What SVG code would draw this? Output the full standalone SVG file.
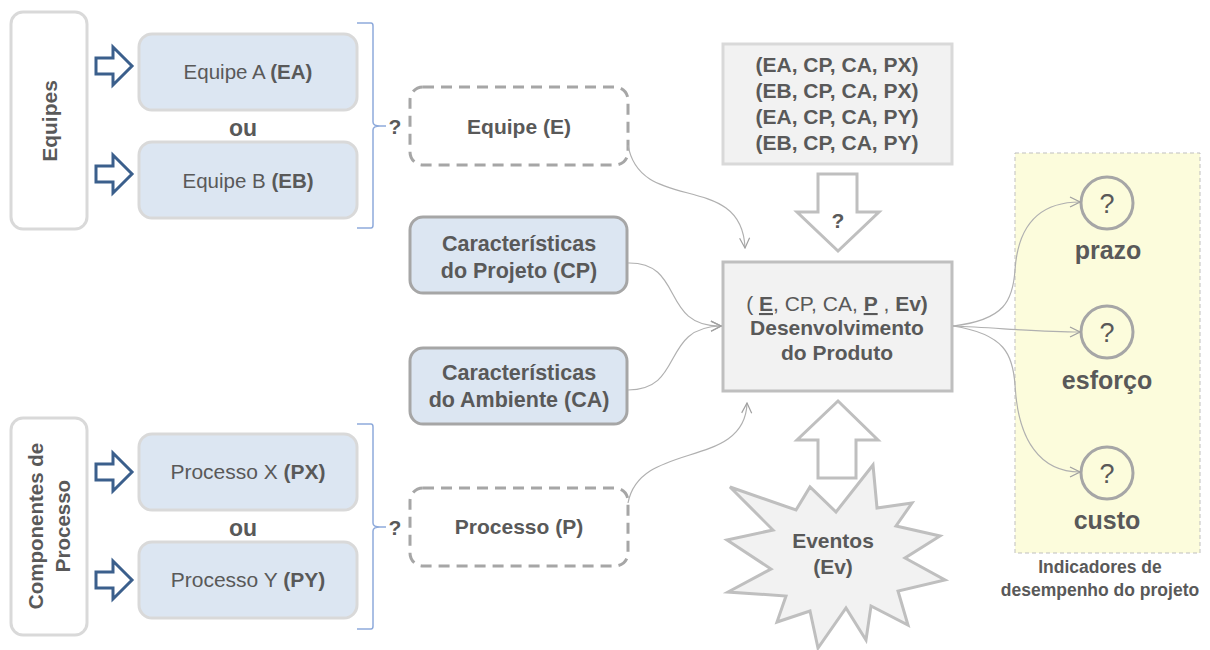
<svg xmlns="http://www.w3.org/2000/svg" width="1210" height="650" viewBox="0 0 1210 650">
<defs>
<style>
text{font-family:"Liberation Sans",Arial,sans-serif;fill:#595959;}
.b{font-weight:bold;}
.side{fill:#fff;stroke:#d9d9d9;stroke-width:3;}
.opt{fill:#dce6f2;stroke:#d9d9d9;stroke-width:3;}
.char{fill:#dce6f2;stroke:#a6a6a6;stroke-width:3;}
.dash{fill:#fff;stroke:#a6a6a6;stroke-width:3;stroke-dasharray:11 7;}
.gbox{fill:#f2f2f2;stroke:#d9d9d9;stroke-width:3;}
.cbox{fill:#f2f2f2;stroke:#bfbfbf;stroke-width:3;}
.barrow{fill:#fff;stroke:#3b5f8c;stroke-width:3;stroke-linejoin:miter;}
.garrow{fill:#fff;stroke:#bfbfbf;stroke-width:3;}
.brace{fill:none;stroke:#8eaadb;stroke-width:1.5;}
.con{fill:none;stroke:#b0b0b0;stroke-width:1.2;marker-end:url(#open);}
.circ{fill:none;stroke:#a6a6a6;stroke-width:3;}
</style>
<marker id="open" viewBox="0 0 12 12" refX="11" refY="6" markerWidth="12" markerHeight="12" markerUnits="userSpaceOnUse" orient="auto">
<path d="M1,1 L11,6 L1,11" fill="none" stroke="#a0a0a0" stroke-width="1.2"/>
</marker>
<path id="rarrow" d="M0,0 L0,-8 L17,-8 L17,-19 L36,0 L17,19 L17,8 L0,8 Z"/>
</defs>

<!-- Equipes group -->
<g id="equipes">
<rect class="side" x="11" y="12" width="76" height="217" rx="12"/>
<text class="b" font-size="21" text-anchor="middle" transform="translate(57,121) rotate(-90)">Equipes</text>
</g>
<g id="arrow-ea"><use href="#rarrow" class="barrow" transform="translate(96,66)"/></g>
<g id="arrow-eb"><use href="#rarrow" class="barrow" transform="translate(96,174)"/></g>
<g id="equipe-a">
<rect class="opt" x="139" y="34" width="218" height="76" rx="13"/>
<text font-size="20.5" text-anchor="middle" x="248" y="79">Equipe A <tspan class="b">(EA)</tspan></text>
</g>
<text class="b" font-size="23" x="243" y="136" text-anchor="middle">ou</text>
<g id="equipe-b">
<rect class="opt" x="139" y="142" width="218" height="76" rx="13"/>
<text font-size="20.5" text-anchor="middle" x="248" y="188">Equipe B <tspan class="b">(EB)</tspan></text>
</g>
<g id="brace-e">
<path class="brace" d="M357,23 L371,23 Q373,23 373,26 L373,122 Q373,126 380,126 Q373,126 373,130 L373,225 Q373,228 371,228 L357,228"/>
<path class="brace" d="M380,126 L386,126"/>
<text class="b" font-size="21" x="395" y="134" text-anchor="middle">?</text>
</g>

<!-- Componentes de Processo -->
<g id="componentes">
<rect class="side" x="11" y="418" width="76" height="217" rx="12"/>
<text class="b" font-size="20.5" text-anchor="middle" transform="translate(43,526) rotate(-90)">Componentes de</text>
<text class="b" font-size="20.5" text-anchor="middle" transform="translate(70,526) rotate(-90)">Processo</text>
</g>
<g id="arrow-px"><use href="#rarrow" class="barrow" transform="translate(96,472)"/></g>
<g id="arrow-py"><use href="#rarrow" class="barrow" transform="translate(96,580)"/></g>
<g id="processo-x">
<rect class="opt" x="139" y="434" width="218" height="76" rx="13"/>
<text font-size="21" text-anchor="middle" x="248" y="479">Processo X <tspan class="b">(PX)</tspan></text>
</g>
<text class="b" font-size="23" x="243" y="536" text-anchor="middle">ou</text>
<g id="processo-y">
<rect class="opt" x="139" y="542" width="218" height="76" rx="13"/>
<text font-size="21" text-anchor="middle" x="248" y="587">Processo Y <tspan class="b">(PY)</tspan></text>
</g>
<g id="brace-p">
<path class="brace" d="M357,424 L371,424 Q373,424 373,427 L373,523 Q373,527 380,527 Q373,527 373,531 L373,626 Q373,629 371,629 L357,629"/>
<path class="brace" d="M380,527 L386,527"/>
<text class="b" font-size="21" x="395" y="535" text-anchor="middle">?</text>
</g>

<!-- middle column -->
<g id="equipe-e">
<rect class="dash" x="410" y="87" width="218" height="78" rx="13"/>
<text class="b" font-size="21" text-anchor="middle" x="519" y="134">Equipe (E)</text>
</g>
<g id="car-projeto">
<rect class="char" x="410" y="217" width="217" height="76" rx="13"/>
<text class="b" font-size="21.5" text-anchor="middle" x="519" y="251">Características</text>
<text class="b" font-size="21.5" text-anchor="middle" x="519" y="278">do Projeto (CP)</text>
</g>
<g id="car-ambiente">
<rect class="char" x="410" y="348" width="217" height="76" rx="13"/>
<text class="b" font-size="21.5" text-anchor="middle" x="519" y="380">Características</text>
<text class="b" font-size="21.5" text-anchor="middle" x="519" y="407">do Ambiente (CA)</text>
</g>
<g id="processo-p">
<rect class="dash" x="410" y="488" width="218" height="78" rx="13"/>
<text class="b" font-size="21" text-anchor="middle" x="519" y="534">Processo (P)</text>
</g>

<!-- combinations -->
<g id="combinacoes">
<rect class="gbox" x="723" y="44" width="229" height="120"/>
<text class="b" font-size="21" text-anchor="middle" x="837" y="72">(EA, CP, CA, PX)</text>
<text class="b" font-size="21" text-anchor="middle" x="837" y="98">(EB, CP, CA, PX)</text>
<text class="b" font-size="21" text-anchor="middle" x="837" y="124">(EA, CP, CA, PY)</text>
<text class="b" font-size="21" text-anchor="middle" x="837" y="150">(EB, CP, CA, PY)</text>
</g>
<g id="seta-baixo">
<path class="garrow" d="M818,174 L857,174 L857,212 L879,212 L838,251 L797,212 L818,212 Z"/>
<text class="b" font-size="21" text-anchor="middle" x="838" y="228">?</text>
</g>
<g id="desenvolvimento">
<rect class="cbox" x="723" y="262" width="229" height="129"/>
<text font-size="21" text-anchor="middle" x="837" y="311">( <tspan class="b" text-decoration="underline">E</tspan>, CP, CA, <tspan class="b" text-decoration="underline">P</tspan> , <tspan class="b">Ev)</tspan></text>
<text class="b" font-size="21" text-anchor="middle" x="837" y="335">Desenvolvimento</text>
<text class="b" font-size="21" text-anchor="middle" x="837" y="360">do Produto</text>
</g>
<g id="seta-cima">
<path class="garrow" d="M838,401 L878,440 L856,440 L856,478 L818,478 L818,440 L797,440 Z"/>
</g>
<g id="eventos">
<path fill="#f2f2f2" stroke="#bfbfbf" stroke-width="3" stroke-linejoin="miter" d="M873,465 L877,508 L912,503 L896,526 L940,536 L905,558 L945,580 L898,591 L908,625 L871,606 L866,640 L846,608 L818,648 L810,611 L777,622 L786,596 L728,592 L771,569 L727,540 L773,530 L730,487 L796,510 L810,487 L836,512 Z"/>
<text class="b" font-size="21" text-anchor="middle" x="833" y="548">Eventos</text>
<text class="b" font-size="21" text-anchor="middle" x="833" y="574">(Ev)</text>
</g>

<!-- indicators -->
<g id="indicadores">
<rect x="1015" y="153" width="185" height="400" fill="#fcfcdc" stroke="#bfbfbf" stroke-width="1" stroke-dasharray="4 3"/>
<text class="b" font-size="17.5" text-anchor="middle" x="1100" y="573">Indicadores de</text>
<text class="b" font-size="17.5" text-anchor="middle" x="1100" y="596">desempenho do projeto</text>
</g>
<g id="prazo">
<circle class="circ" cx="1107" cy="203" r="26"/>
<text font-size="27" text-anchor="middle" x="1107" y="213">?</text>
<text class="b" font-size="25" text-anchor="middle" x="1108" y="259">prazo</text>
</g>
<g id="esforco">
<circle class="circ" cx="1107" cy="332" r="26"/>
<text font-size="27" text-anchor="middle" x="1107" y="342">?</text>
<text class="b" font-size="25" text-anchor="middle" x="1107" y="389">esforço</text>
</g>
<g id="custo">
<circle class="circ" cx="1107" cy="473" r="26"/>
<text font-size="27" text-anchor="middle" x="1107" y="483">?</text>
<text class="b" font-size="25" text-anchor="middle" x="1107" y="529">custo</text>
</g>

<!-- connectors -->
<g id="connectors">
<path class="con" d="M628,145 C640,215 742,170 745,248"/>
<path class="con" d="M628,263 C685,262 660,327 721,326"/>
<path class="con" d="M628,390 C685,390 660,327 721,326"/>
<path class="con" d="M628,503 C640,440 745,470 747,403"/>
<path class="con" d="M953,326 C1005,320 1013,300 1015,270 C1018,225 1040,202 1080,202"/>
<path class="con" d="M953,326 C1000,328 1040,332 1080,332"/>
<path class="con" d="M953,326 C1005,334 1013,355 1015,385 C1018,440 1040,472 1080,472"/>
</g>
</svg>
